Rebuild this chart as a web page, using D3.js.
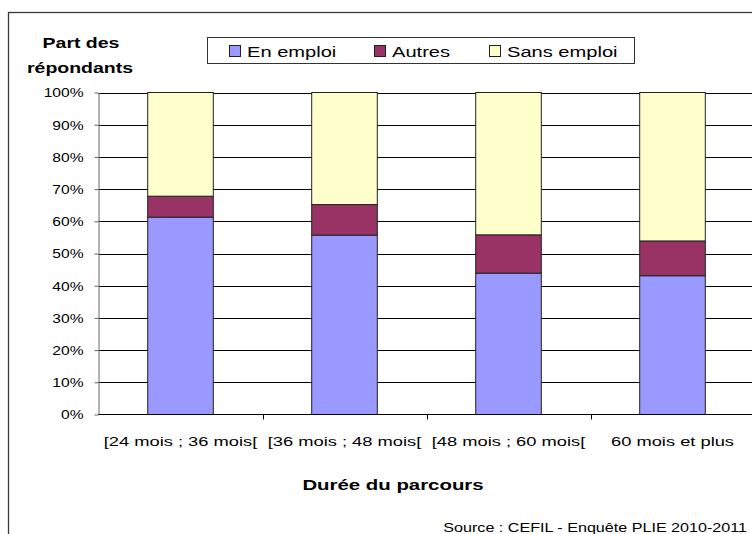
<!DOCTYPE html>
<html>
<head>
<meta charset="utf-8">
<script src="https://cdn.jsdelivr.net/npm/d3@7"></script>
<style>
  html, body { margin: 0; padding: 0; background: #fff; }
  svg { display: block; font-family: "Liberation Sans", Arial, sans-serif; }
</style>
</head>
<body>
<svg id="chart" width="752" height="534"></svg>
<script>
// Data (share of respondents, %)
const categories = ['[24 mois ; 36 mois[', '[36 mois ; 48 mois[', '[48 mois ; 60 mois[', '60 mois et plus'];
const seriesNames = ['En emploi', 'Autres', 'Sans emploi'];
const enEmploi = [61.3, 55.7, 43.9, 43.1];
const autres = [6.5, 9.5, 11.9, 10.8];
const sansEmploi = [32.2, 34.8, 44.2, 46.1];
const yTicks = [0, 10, 20, 30, 40, 50, 60, 70, 80, 90, 100];

const colors = ['#9999ff', '#993366', '#ffffcc'];

// The source image is stretched horizontally; text gets the same stretch
const SX = 1.3;

const svg = d3.select('#chart');
const plot = { left: 98.5, right: 754.5, top: 92.5, bottom: 414.5 };

// Outer frame (runs off the right and bottom edges)
svg.append('rect')
  .attr('x', 8.5).attr('y', 12.5)
  .attr('width', 800).attr('height', 600)
  .attr('fill', 'none')
  .attr('stroke', '#3a3a3a')
  .attr('stroke-width', 1.3);

const x = d3.scaleBand()
  .domain(categories)
  .range([plot.left, plot.right])
  .paddingInner(0.6)
  .paddingOuter(0.3);

const y = d3.scaleLinear()
  .domain([0, 100])
  .range([plot.bottom, plot.top]);

function stretchedText(g, px, py, str, opts = {}) {
  return g.append('text')
    .attr('transform', `translate(${px},${py}) scale(${opts.sx || SX},1)`)
    .attr('text-anchor', opts.anchor || 'middle')
    .style('font-size', (opts.size || 13) + 'px')
    .style('font-weight', opts.bold ? 'bold' : 'normal')
    .style('fill', '#000')
    .text(str);
}

// Gridlines
svg.append('g')
  .selectAll('line')
  .data(yTicks.filter((d) => d > 0))
  .join('line')
  .attr('x1', plot.left).attr('x2', plot.right + 10)
  .attr('y1', (d) => Math.round(y(d)) + 0.5)
  .attr('y2', (d) => Math.round(y(d)) + 0.5)
  .attr('stroke', '#000')
  .attr('stroke-width', 1.2);

// Stacked bars
const rows = categories.map((c, i) => ({
  cat: c,
  'En emploi': enEmploi[i],
  'Autres': autres[i],
  'Sans emploi': sansEmploi[i]
}));
const stacked = d3.stack().keys(seriesNames)(rows);

svg.append('g')
  .selectAll('g')
  .data(stacked)
  .join('g')
  .attr('fill', (d, i) => colors[i])
  .selectAll('rect')
  .data((d) => d)
  .join('rect')
  .attr('x', (d) => x(d.data.cat))
  .attr('y', (d) => y(d[1]))
  .attr('width', x.bandwidth())
  .attr('height', (d) => y(d[0]) - y(d[1]))
  .attr('stroke', '#222')
  .attr('stroke-width', 1);

// Left axis
const yAxis = svg.append('g')
  .attr('transform', `translate(${plot.left},0)`)
  .call(d3.axisLeft(y).tickValues(yTicks).tickFormat((d) => d + '%').tickSize(4).tickSizeOuter(0));
yAxis.select('.domain').attr('stroke', '#666');
yAxis.selectAll('.tick line').attr('stroke', '#666');
yAxis.selectAll('.tick text')
  .attr('x', -15 / SX)
  .attr('dy', '0.36em')
  .attr('transform', `scale(${SX},1)`)
  .style('font-size', '12px')
  .style('font-family', '"Liberation Sans", Arial, sans-serif')
  .attr('fill', '#000');

// Bottom axis: line, ticks between categories, labels under bars
svg.append('line')
  .attr('x1', plot.left).attr('x2', plot.right + 10)
  .attr('y1', plot.bottom).attr('y2', plot.bottom)
  .attr('stroke', '#000');

const boundaries = categories.slice(0, -1).map((c) => x(c) + x.bandwidth() + (x.step() - x.bandwidth()) / 2);
svg.append('g')
  .selectAll('line')
  .data(boundaries)
  .join('line')
  .attr('x1', (d) => Math.round(d) + 0.5).attr('x2', (d) => Math.round(d) + 0.5)
  .attr('y1', plot.bottom).attr('y2', plot.bottom + 5)
  .attr('stroke', '#000');

const catLabels = svg.append('g');
categories.forEach((c) => {
  stretchedText(catLabels, x(c) + x.bandwidth() / 2, 445.5, c, { size: 12.8, sx: 1.43 });
});

// Titles
stretchedText(svg, 81, 48, 'Part des', { size: 15, bold: true });
stretchedText(svg, 80, 73, 'répondants', { size: 15, bold: true });
stretchedText(svg, 393, 490, 'Durée du parcours', { size: 15, bold: true, sx: 1.36 });
stretchedText(svg, 747, 532, 'Source : CEFIL - Enquête PLIE 2010-2011', { size: 12.4, anchor: 'end' });

// Legend
const legend = svg.append('g');
legend.append('rect')
  .attr('x', 207.5).attr('y', 37.5)
  .attr('width', 427).attr('height', 26)
  .attr('fill', '#fff')
  .attr('stroke', '#333');

const legendX = [229, 374, 489];
seriesNames.forEach((name, i) => {
  legend.append('rect')
    .attr('x', legendX[i] + 0.5).attr('y', 45.5)
    .attr('width', 11).attr('height', 11)
    .attr('fill', colors[i])
    .attr('stroke', '#222');
  stretchedText(legend, legendX[i] + 18, 56.5, name, { size: 15, anchor: 'start', sx: 1.34 });
});
</script>
</body>
</html>
